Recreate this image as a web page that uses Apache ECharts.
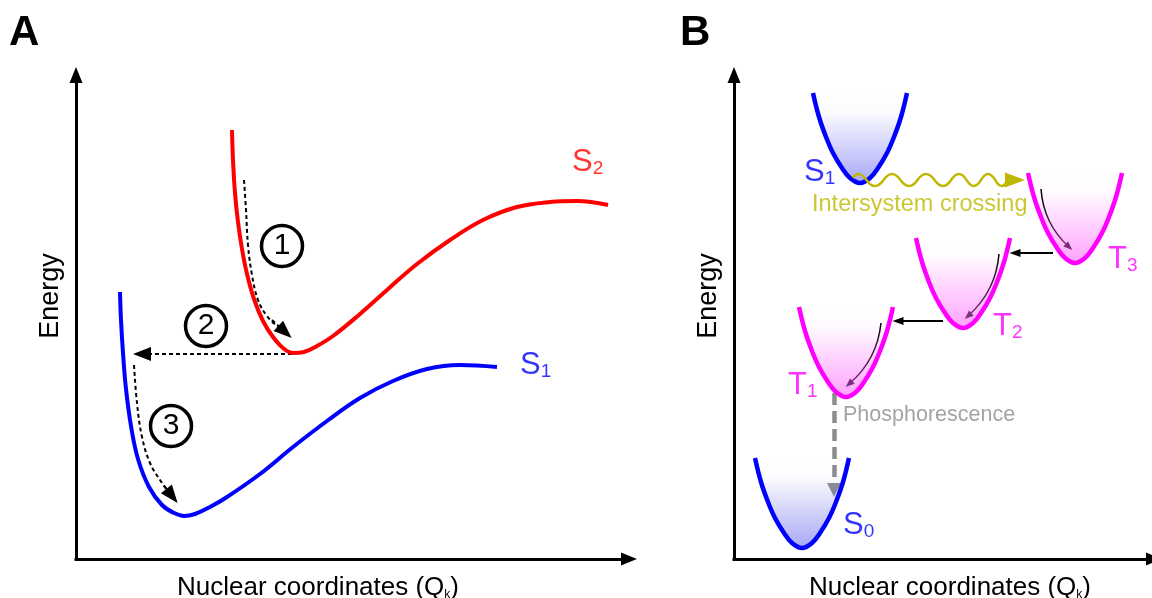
<!DOCTYPE html>
<html><head><meta charset="utf-8">
<script src="https://cdn.jsdelivr.net/npm/echarts@6/dist/echarts.min.js"></script>
<style>html,body{margin:0;padding:0;background:#fff}#c{width:1152px;height:598px}</style>
</head><body><div id="c"></div>
<script>
// ---------- Panel A data (x: nuclear coordinate, y: energy; arbitrary units) ----------
const s2A = [[156,429],[157,399],[159,366],[162,337],[166,310],[171,285],[178,260],[187,238],[197,222],[207,211],[217,206],[228,207],[241,213],[257,223],[284,245],[311,269],[341,295],[374,319],[407,339],[441,352],[474,357],[501,358],[532,354]];
const s1A = [[44,267],[45,239],[47,206],[50,170],[55,133],[62,100],[73,72],[86,54],[98,46],[108,43],[119,45],[134,52],[151,62],[184,85],[217,112],[251,138],[284,161],[317,178],[351,190],[384,194],[421,192]];
const path1A = [[168,379],[170,349],[172,314],[176,284],[182,259],[191,243],[203,231]];
const arrow1A = [[196,239],[209,227]];
const path2A = [[216,205],[66,205]];
const path3A = [[58,194],[61,156],[66,122],[74,96],[84,79],[92,68]];
const arrow3A = [[88,73],[96,63]];
const stepsA = [[206,313,'1'],[130,233,'2'],[95,133,'3']];
const labelsA = [[496,398,'S','2','#ff0000'],[444,195,'S','1','#0000ff']];

// ---------- Panel B data ----------
const wellS1 = [[79,466],[85,442],[92,422],[99,406],[108,391],[116,381],[126,376],[136,381],[144,391],[153,406],[160,422],[167,442],[173,466]];
const wellT3 = [[294,386],[300,362],[307,342],[314,326],[323,311],[331,301],[341,296],[351,301],[359,311],[368,326],[375,342],[382,362],[388,386]];
const wellT2 = [[182,321],[188,297],[195,277],[202,261],[211,246],[219,236],[229,231],[239,236],[247,246],[256,261],[263,277],[270,297],[276,321]];
const wellT1 = [[65,252],[71,228],[78,208],[85,192],[94,177],[102,167],[112,162],[122,167],[130,177],[139,192],[146,208],[153,228],[159,252]];
const wellS0 = [[21,101],[27,77],[34,57],[41,41],[50,26],[58,16],[68,11],[78,16],[86,26],[95,41],[102,57],[109,77],[115,101]];
const wellTops = {S1:466, T3:386, T2:321, T1:252, S0:101};
const iscWave = [[119,381],[124,385],[141,373],[158,385],[175,373],[192,385],[209,373],[225,385],[240,373],[254,385],[268,373],[273,379]];
const iscHead = [[273,379],[281,379]];
const relaxArrows = [[[307,370],[335,312]],[[265,305],[234,243]],[[147,236],[115,175]]];
const relaxCurv = [-0.2, 0.2, 0.2];
const transferArrows = [[[319,306],[281,306]],[[209,238],[164,238]]];
const phosArrow = [[100,166],[100,69]];
const labelsB = [[70,388,'S','1','#0000ff'],[374,301,'T','3','#ff00ff'],[259,234,'T','2','#ff00ff'],[54,175,'T','1','#ff00ff'],[109,35,'S','0','#0000ff']];
const textsB = [[78,354,'Intersystem crossing','#c0b800',23.5],[109,144,'Phosphorescence','#8c8c8c',21.5]];

const FONT = '"Liberation Sans", Arial, Helvetica, sans-serif';
const BLUE = '#0000ff', RED = '#ff0000', MAG = '#ff00ff';

function xAx(gi, max, pad) {
  return {gridIndex: gi, type: 'value', min: 0, max: max,
    axisLine: {show: true, onZero: false, symbol: ['none','triangle'], symbolSize: [13,16], lineStyle: {color:'#000', width: 3, cap: 'square'}},
    axisTick: {show:false}, axisLabel: {show:false}, splitLine: {show:false},
    name: '{t|Nuclear coordinates (Q}{k|k}{t|)}', nameLocation: 'middle', nameGap: 12,
    nameTextStyle: {fontFamily: FONT, color: '#000', fontSize: 26, padding: pad,
      rich: {t: {fontFamily: FONT, fontSize: 26, color:'#000', verticalAlign:'bottom', lineHeight: 30},
             k: {fontFamily: FONT, fontSize: 12, color:'#000', verticalAlign:'bottom', lineHeight: 13}}}};
}
function yAx(gi, max) {
  return {gridIndex: gi, type: 'value', min: 0, max: max,
    axisLine: {show: true, onZero: false, symbol: ['none','triangle'], symbolSize: [13,16], lineStyle: {color:'#000', width: 3, cap: 'square'}},
    axisTick: {show:false}, axisLabel: {show:false}, splitLine: {show:false},
    name: 'Energy', nameLocation: 'middle', nameGap: 12,
    nameTextStyle: {fontFamily: FONT, color: '#000', fontSize: 27, padding: [0, 0, 0, 42]}};
}
function curve(gi, data, color, width, extra) {
  return Object.assign({type:'line', xAxisIndex: gi, yAxisIndex: gi, data: data, smooth: 0.4, symbol: 'none',
    lineStyle: {color: color, width: width}, silent: true, animation: false}, extra || {});
}
function well(data, color, rgb, top) {
  return curve(1, data, color, 4.5, {
    areaStyle: {origin: top, opacity: 1, color: new echarts.graphic.LinearGradient(0,0,0,1,[
      {offset: 0, color: 'rgba('+rgb+',0)'}, {offset: 0.2, color: 'rgba('+rgb+',0.02)'}, {offset: 1, color: 'rgba('+rgb+',0.6)'}])}
  });
}
function arrows(gi, list, color, width, type, size, curv) {
  return {type:'lines', coordinateSystem:'cartesian2d', xAxisIndex: gi, yAxisIndex: gi, polyline: false,
    symbol: ['none','triangle'], symbolSize: [0, size], silent: true, animation: false,
    lineStyle: {color: color, width: width, type: type, opacity: 1, curveness: 0},
    data: list.map((c, i) => ({coords: c, lineStyle: {curveness: curv ? curv[i] : 0}}))};
}
function subLabels(gi, list) {
  return {type:'scatter', xAxisIndex: gi, yAxisIndex: gi, symbolSize: 0, silent: true, animation: false,
    data: list.map(l => ({value: [l[0], l[1]], name: l[2] + '|' + l[3], label: {color: l[4]}})),
    label: {show: true, position: 'right', distance: 0,
      formatter: p => { const s = p.name.split('|'); return '{m|' + s[0] + '}{s|' + s[1] + '}'; },
      rich: {m: {fontFamily: FONT, fontSize: 31, verticalAlign: 'bottom', lineHeight: 34},
             s: {fontFamily: FONT, fontSize: 19, verticalAlign: 'bottom', lineHeight: 18}}}};
}

const option = {
  animation: false,
  backgroundColor: '#fff',
  title: [
    {text: 'A', left: 4, top: 7, textStyle: {fontFamily: FONT, fontSize: 42, fontWeight: 'bold', color: '#000'}},
    {text: 'B', left: 675, top: 7, textStyle: {fontFamily: FONT, fontSize: 42, fontWeight: 'bold', color: '#000'}}
  ],
  grid: [
    {left: 76, top: 75, width: 553, height: 484, outerBoundsMode: 'none', containLabel: false},
    {left: 734, top: 75, width: 420, height: 484, outerBoundsMode: 'none', containLabel: false}
  ],
  xAxis: [xAx(0, 553, [0, 69, 0, 0]), xAx(1, 420, [0, 0, 0, 12])],
  yAxis: [yAx(0, 484), yAx(1, 484)],
  series: [
    curve(0, s2A, RED, 4),
    curve(0, s1A, BLUE, 4),
    curve(0, path1A, '#000', 2, {lineStyle: {color:'#000', width: 2, type: [4,3]}}),
    curve(0, path3A, '#000', 2, {lineStyle: {color:'#000', width: 2, type: [4,3]}}),
    arrows(0, [arrow1A, path2A, arrow3A], '#000', 2, [4,3], [14,18]),
    {type:'scatter', xAxisIndex: 0, yAxisIndex: 0, symbol: 'circle', symbolSize: 41, silent: true, animation: false,
     itemStyle: {color: '#fff', borderColor: '#000', borderWidth: 3.5, opacity: 1},
     data: stepsA.map(s => ({value: [s[0], s[1]], name: s[2]})),
     label: {show: true, position: 'inside', formatter: '{b}', fontFamily: FONT, fontSize: 30, color: '#000'}},
    subLabels(0, labelsA),

    well(wellS1, BLUE, '110,110,240', wellTops.S1),
    well(wellT3, MAG, '255,100,255', wellTops.T3),
    well(wellT2, MAG, '255,100,255', wellTops.T2),
    well(wellT1, MAG, '255,100,255', wellTops.T1),
    well(wellS0, BLUE, '110,110,240', wellTops.S0),
    curve(1, iscWave, '#c0b800', 2.5, {smooth: 0.5}),
    arrows(1, [iscHead], '#c0b800', 2.5, 'solid', [15,20]),
    arrows(1, relaxArrows, '#000', 1.5, 'solid', [7,9], relaxCurv),
    arrows(1, transferArrows, '#000', 2, 'solid', [8,11]),
    arrows(1, [phosArrow], '#8c8c8c', 4.5, [12,6], [14,14]),
    subLabels(1, labelsB),
    {type:'scatter', xAxisIndex: 1, yAxisIndex: 1, symbolSize: 0, silent: true, animation: false,
     data: textsB.map(t => ({value: [t[0], t[1]], name: t[2], label: {color: t[3], fontSize: t[4]}})),
     label: {show: true, position: 'right', distance: 0, formatter: '{b}', fontFamily: FONT}}
  ]
};
const chart = echarts.init(document.getElementById('c'), null, {renderer: 'canvas'});
chart.setOption(option);
</script></body></html>
